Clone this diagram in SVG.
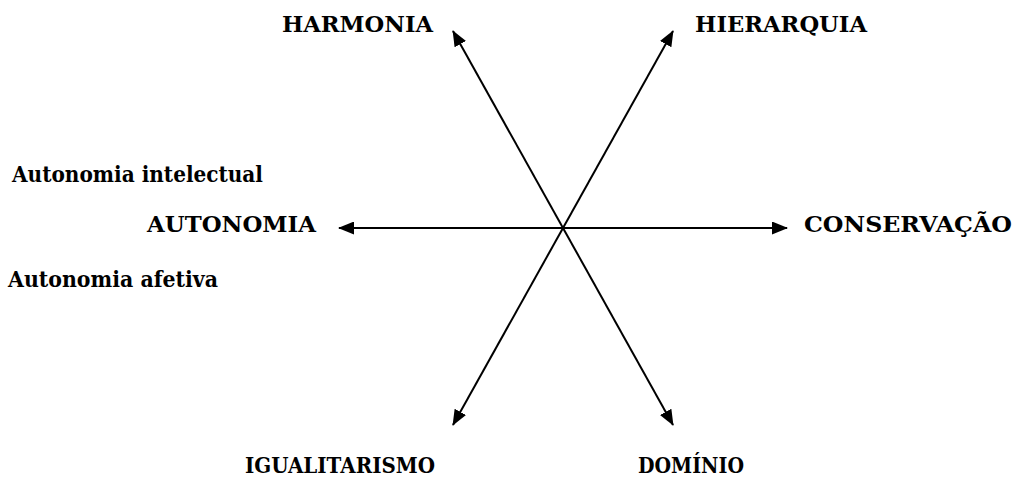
<svg xmlns="http://www.w3.org/2000/svg" width="1018" height="486" viewBox="0 0 1018 486">
<style>
.t{font-family:'DejaVu Serif','Liberation Serif',serif;font-weight:700;font-size:22px;fill:#000}
.c{stroke:#000;stroke-width:2;fill:none;marker-end:url(#ah)}
</style>
<defs>
<marker id="ah" markerUnits="userSpaceOnUse" viewBox="0 0 16 13" refX="15" refY="6.5" markerWidth="16" markerHeight="13" orient="auto">
<path d="M0,0 L16,6.5 L0,13 Z" fill="#000"/>
</marker>
</defs>
<rect width="1018" height="486" fill="#fff"/>
<g id="connectors">
<line class="c" x1="563" y1="228" x2="453" y2="31"/>
<line class="c" x1="563" y1="228" x2="673" y2="31"/>
<line class="c" x1="563" y1="228" x2="339" y2="228"/>
<line class="c" x1="563" y1="228" x2="787" y2="228"/>
<line class="c" x1="563" y1="228" x2="453" y2="425"/>
<line class="c" x1="563" y1="228" x2="673" y2="425"/>
</g>
<g class="t">
<g id="harmonia"><text x="282" y="32" textLength="151" lengthAdjust="spacingAndGlyphs">HARMONIA</text></g>
<g id="hierarquia"><text x="695" y="32" textLength="172" lengthAdjust="spacingAndGlyphs">HIERARQUIA</text></g>
<g id="autonomia"><text x="147" y="232" textLength="169" lengthAdjust="spacingAndGlyphs">AUTONOMIA</text></g>
<g id="conservacao"><text x="804" y="232" textLength="208" lengthAdjust="spacingAndGlyphs">CONSERVAÇÃO</text></g>
<g id="autonomia-intelectual"><text x="12" y="182" textLength="251" lengthAdjust="spacingAndGlyphs">Autonomia intelectual</text></g>
<g id="autonomia-afetiva"><text x="8" y="287" textLength="210" lengthAdjust="spacingAndGlyphs">Autonomia afetiva</text></g>
<g id="igualitarismo"><text x="245" y="473" textLength="190" lengthAdjust="spacingAndGlyphs">IGUALITARISMO</text></g>
<g id="dominio"><text x="638" y="473" textLength="106" lengthAdjust="spacingAndGlyphs">DOMÍNIO</text></g>
</g>
</svg>
